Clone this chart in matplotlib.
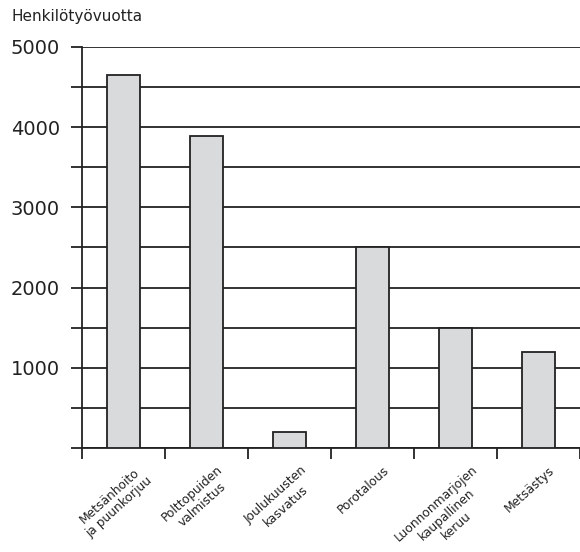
import matplotlib.pyplot as plt
import numpy as np
import matplotlib.ticker as ticker
import matplotlib.transforms as mtransforms

# Data
categories = ['Metsänhoito\nja puunkorjuu', 'Polttopuiden\nvalmistus', 'Joulukuusten\nkasvatus',
              'Porotalous', 'Luonnonmarjojen\nkaupallinen\nkeruu', 'Metsästys']
values = [4650, 3890, 200, 2500, 1500, 1200]

fig = plt.figure(figsize=(5.8, 5.52), dpi=100)
ax = fig.add_axes([0.1414, 0.1884, 0.8586, 0.7265])

x = np.arange(len(categories))
ax.bar(x, values, width=0.4, color='#d9dadc', edgecolor='#222222', linewidth=1.3, zorder=3)

ax.set_xlim(-0.5, len(categories) - 0.5)
ax.set_ylim(0, 5000)

# y grid every 500, labels every 1000
ax.yaxis.set_major_locator(ticker.MultipleLocator(1000))
ax.yaxis.set_minor_locator(ticker.MultipleLocator(500))
ax.yaxis.set_major_formatter(ticker.FuncFormatter(lambda v, p: '' if v == 0 else f'{int(v)}'))
ax.grid(True, axis='y', which='both', color='#222222', linewidth=1.3, zorder=1)
ax.tick_params(axis='y', which='both', length=8, width=1.3, color='#222222',
               labelsize=14, pad=8, labelcolor='#222222')

# x ticks at boundaries, labels at centers
ax.set_xticks(x)
ax.set_xticklabels(categories, rotation=42, ha='center', va='top',
                   fontsize=8.8, multialignment='center', color='#222222', linespacing=1.2)
ax.xaxis.set_minor_locator(ticker.FixedLocator(np.arange(-0.5, len(categories), 1.0)))
ax.tick_params(axis='x', which='major', length=0, pad=11)
ax.tick_params(axis='x', which='minor', length=8, width=1.3, color='#222222')
offset = mtransforms.ScaledTranslation(-9 / 100, 0, fig.dpi_scale_trans)
for lbl in ax.get_xticklabels():
    lbl.set_transform(lbl.get_transform() + offset)

for s in ['top', 'right']:
    ax.spines[s].set_visible(False)
for s in ['left', 'bottom']:
    ax.spines[s].set_linewidth(1.3)
    ax.spines[s].set_color('#222222')

fig.text(0.02, 0.97, 'Henkilötyövuotta', fontsize=11, ha='left', va='center', color='#222222')

fig.savefig('out.png', dpi=100)
